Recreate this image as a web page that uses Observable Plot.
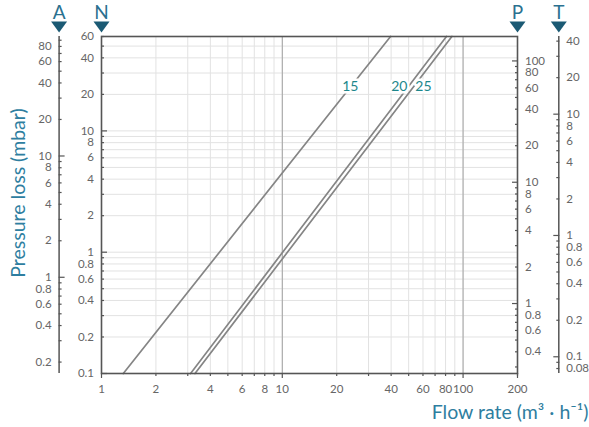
<!DOCTYPE html>
<html><head><meta charset="utf-8">
<script src="https://cdn.jsdelivr.net/npm/d3@7"></script>
<script src="https://cdn.jsdelivr.net/npm/@observablehq/plot@0.6"></script>
<style>body{margin:0;background:#fff;}</style>
</head><body><div id="chart"></div>
<script>
// ---- data ----
const xDomain = [1, 200];          // flow rate m3/h
const yDomain = [0.1, 60];         // pressure loss, N scale (mbar)
const curveNames = ["15", "20", "25"];
const flow15 = [1.32, 39.7];
const dp15 = [0.1, 60];
const flow20 = [3.11, 80.9];
const dp20 = [0.1, 60];
const flow25 = [3.29, 86.7];
const dp25 = [0.1, 60];
const labelFlow = [23.8, 44.4, 60.4];
const labelDp = [23, 23, 23];

const xTickLabels = [1, 2, 4, 6, 8, 10, 20, 40, 60, 80, 100, 200];
const nTickLabels = [0.1, 0.2, 0.4, 0.6, 0.8, 1, 2, 4, 6, 8, 10, 20, 40, 60];
const aTickLabels = [0.2, 0.4, 0.6, 0.8, 1, 2, 4, 6, 8, 10, 20, 40, 60, 80];
const pTickLabels = [0.4, 0.6, 0.8, 1, 2, 4, 6, 8, 10, 20, 40, 60, 80, 100];
const tTickLabels = [0.08, 0.1, 0.2, 0.4, 0.6, 0.8, 1, 2, 4, 6, 8, 10, 20, 40];
const axisLetters = ["A", "N", "P", "T"];
// each gas scale value = N value * factor
const aFactor = 1.61, nFactor = 1, pFactor = 2.65, tFactor = 0.728;

const yTitle = "Pressure loss (mbar)";
const xTitle = "Flow rate (m³ · h⁻¹)";

// ---- helpers ----
const FONT = "Lato, 'Open Sans', sans-serif";
const TICK = "#555", LABEL = "#666";
const fmt = v => String(+v.toPrecision(4));
function multiples(lo, hi) {
  const out = [];
  for (let e = -2; e <= 3; e++) for (let m = 1; m <= 9; m++) {
    const v = +(m * Math.pow(10, e)).toPrecision(4);
    if (v >= lo * 0.999 && v <= hi * 1.001) out.push({v, major: m === 1});
  }
  return out;
}
const downTriangle = {draw(ctx) { ctx.moveTo(-8, -5.5); ctx.lineTo(8, -5.5); ctx.lineTo(0, 5.5); ctx.closePath(); }};

function gasAxis({factor, labels, side, offset, letter, inward}) {
  const all = multiples(yDomain[0] * factor, yDomain[1] * factor);
  const toN = v => v / factor;
  const minor = all.filter(d => !d.major).map(d => toN(d.v));
  const major = all.filter(d => d.major).map(d => toN(d.v));
  const edge = side === "left" ? xDomain[0] : xDomain[1];
  const dir = inward;
  const tickDx = size => side === "left" ? (dir > 0 ? offset + size : offset) : (dir < 0 ? offset - size : offset);
  const marks = [];
  if (offset !== 0) marks.push(Plot.ruleX([edge], {dx: offset, stroke: TICK, strokeWidth: 1.5}));
  marks.push(
    Plot.axisY(minor, {anchor: side, tickSize: 3, dx: tickDx(3), tickFormat: () => "", label: null, stroke: TICK, strokeWidth: 1.2}),
    Plot.axisY(major, {anchor: side, tickSize: 6, dx: tickDx(6), tickFormat: () => "", label: null, stroke: TICK, strokeWidth: 1.2}),
    Plot.text(labels, {
      y: v => toN(v), text: v => fmt(v),
      frameAnchor: side, textAnchor: side === "left" ? "end" : "start", lineAnchor: "middle",
      dx: side === "left" ? offset - 7.5 : offset + 7.5,
      fill: LABEL, fontSize: 11.5
    }),
    Plot.dot([edge], {x: d => d, frameAnchor: "top", dx: offset, dy: -9.5, symbol: downTriangle, fill: "#1b5a74", stroke: "none"}),
    Plot.text([letter], {x: () => edge, text: d => d, frameAnchor: "top", lineAnchor: "middle", textAnchor: "middle", dx: offset, dy: -24, fontSize: 19, fill: "#2b7190"})
  );
  return marks;
}

const curves = [[flow15, dp15], [flow20, dp20], [flow25, dp25]];
const lineRows = curves.flatMap(([f, p], i) => f.map((fv, j) => ({name: curveNames[i], flow: fv, dp: p[j]})));
const labelRows = curveNames.map((n, i) => ({name: n, flow: labelFlow[i], dp: labelDp[i]}));

const xAll = multiples(xDomain[0], xDomain[1]);
const xMinor = xAll.filter(d => !d.major).map(d => d.v);
const xMajor = xAll.filter(d => d.major).map(d => d.v).concat([200]);
const nAll = multiples(yDomain[0], yDomain[1]).map(d => d.v);

const chart = Plot.plot({
  width: 589,
  height: 427,
  marginTop: 36,
  marginBottom: 54,
  marginLeft: 101,
  marginRight: 72,
  style: {fontFamily: FONT, background: "#fff"},
  x: {type: "log", domain: xDomain},
  y: {type: "log", domain: yDomain},
  marks: [
    Plot.gridX(xAll.map(d => d.v), {stroke: "#e2e2e2", strokeOpacity: 1}),
    Plot.gridY(nAll, {stroke: "#e2e2e2", strokeOpacity: 1}),
    Plot.gridX([10, 100], {stroke: "#a3a3a3", strokeOpacity: 1}),
    Plot.line(lineRows, {x: "flow", y: "dp", z: "name", stroke: "#858585", strokeWidth: 1.7}),
    Plot.text(labelRows, {x: "flow", y: "dp", text: "name", fill: "#1d878c", stroke: "white", strokeWidth: 5, paintOrder: "stroke", fontSize: 14}),
    Plot.frame({stroke: TICK, strokeWidth: 1.6}),
    Plot.axisX(xMinor, {anchor: "bottom", tickSize: 3, tickFormat: () => "", label: null, stroke: TICK, strokeWidth: 1.2}),
    Plot.axisX(xMajor, {anchor: "bottom", tickSize: 5, tickFormat: () => "", label: null, stroke: TICK, strokeWidth: 1.2}),
    Plot.text(xTickLabels, {x: d => d, text: d => fmt(d), frameAnchor: "bottom", lineAnchor: "top", textAnchor: "middle", dy: 11, fill: LABEL, fontSize: 11.5}),
    ...gasAxis({factor: aFactor, labels: aTickLabels, side: "left", offset: -42.4, letter: axisLetters[0], inward: 1}),
    ...gasAxis({factor: nFactor, labels: nTickLabels, side: "left", offset: 0, letter: axisLetters[1], inward: 1}),
    ...gasAxis({factor: pFactor, labels: pTickLabels, side: "right", offset: 0, letter: axisLetters[2], inward: -1}),
    ...gasAxis({factor: tFactor, labels: tTickLabels, side: "right", offset: 41.3, letter: axisLetters[3], inward: -1}),
    Plot.text([yTitle], {text: d => d, frameAnchor: "left", textAnchor: "middle", lineAnchor: "middle", rotate: -90, dx: -83, dy: -12, fontSize: 19.5, fill: "#2e7ea0"}),
    Plot.text([xTitle], {text: d => d, frameAnchor: "bottom-right", textAnchor: "end", lineAnchor: "middle", dx: 71, dy: 39, fontSize: 19.5, fill: "#2e7ea0"})
  ]
});
document.getElementById("chart").appendChild(chart);
</script>
</body></html>
